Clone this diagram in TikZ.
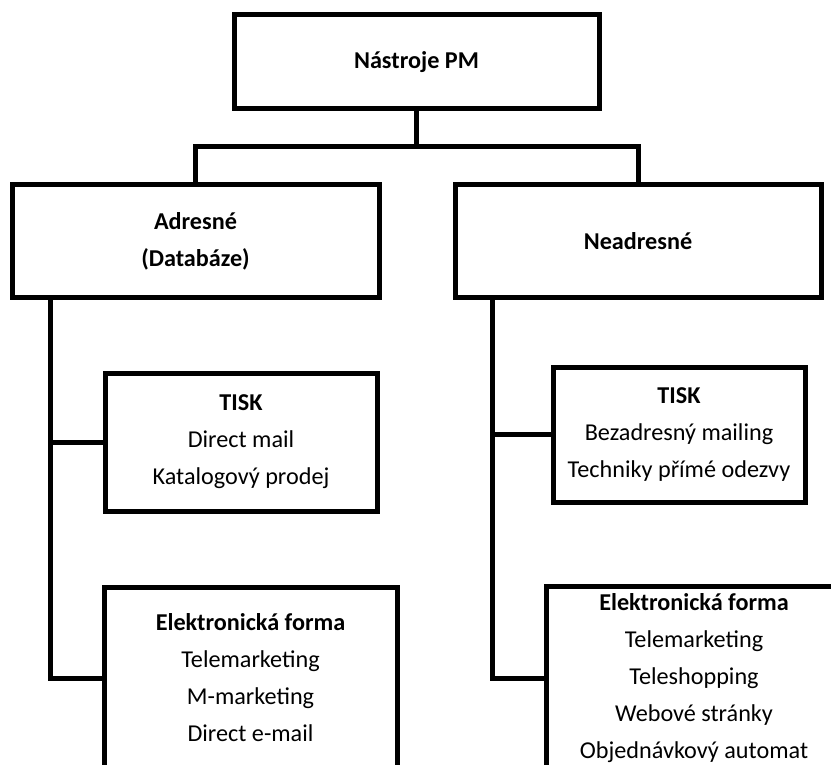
\documentclass[tikz,border=0pt]{standalone}
\usepackage{fontspec}
\setmainfont{Carlito}
\begin{document}
\begin{tikzpicture}[x=1pt, y=-1pt,
        box/.style={draw, line width=5pt, align=center, inner sep=0pt,
                font=\fontsize{24.2}{37}\selectfont},
        spoj/.style={line width=5pt}]
                \useasboundingbox ( 0, 0 ) rectangle ( 831, 765 );
                \clip ( 0, 0 ) rectangle ( 831, 765 );

% bloky
                \node [box, minimum width=365pt, minimum height=94pt] (nastroje) at ( 416.5, 62 ) {\textbf{Nástroje PM}};
                \node [box, minimum width=367pt, minimum height=112pt] (adresne) at ( 195.5, 241 ) {\textbf{Adresné}\\\textbf{(Databáze)}};
                \node [box, minimum width=366pt, minimum height=112pt] (neadresne) at ( 638, 241 ) {\textbf{Neadresné}};

                \node [box, minimum width=272pt, minimum height=138pt] (tiskA) at ( 241, 442 ) {\textbf{TISK}\\Direct mail\\Katalogový prodej};
                \node [box, minimum width=293pt, minimum height=182pt] (elektroA) at ( 250.5, 678 ) {\textbf{Elektronická forma}\\Telemarketing\\M-marketing\\Direct e-mail};

                \node [box, minimum width=252pt, minimum height=135pt] (tiskN) at ( 679, 434.5 ) {\textbf{TISK}\\Bezadresný mailing\\Techniky přímé odezvy};
                \node [box, minimum width=296pt, minimum height=185pt] (elektroN) at ( 694, 678.5 ) {\textbf{Elektronická forma}\\Telemarketing\\Teleshopping\\Webové stránky\\Objednávkový automat};

% spojnice nahore
                \coordinate (rozdel) at ( 416.5, 147 );
                \draw [spoj] (nastroje.south) -- (rozdel);
                \draw [spoj] (adresne.north) |- (rozdel) -| (neadresne.north);

% vetve
                \coordinate (kmenA) at ( 50, 297 );
                \coordinate (kmenN) at ( 492, 297 );
                \draw [spoj] (kmenA) |- (elektroA.west);
                \draw [spoj] (tiskA.west) -- (tiskA.west -| kmenA);
                \draw [spoj] (kmenN) |- (elektroN.west);
                \draw [spoj] (tiskN.west) -- (tiskN.west -| kmenN);
            \end{tikzpicture}
\end{document}
